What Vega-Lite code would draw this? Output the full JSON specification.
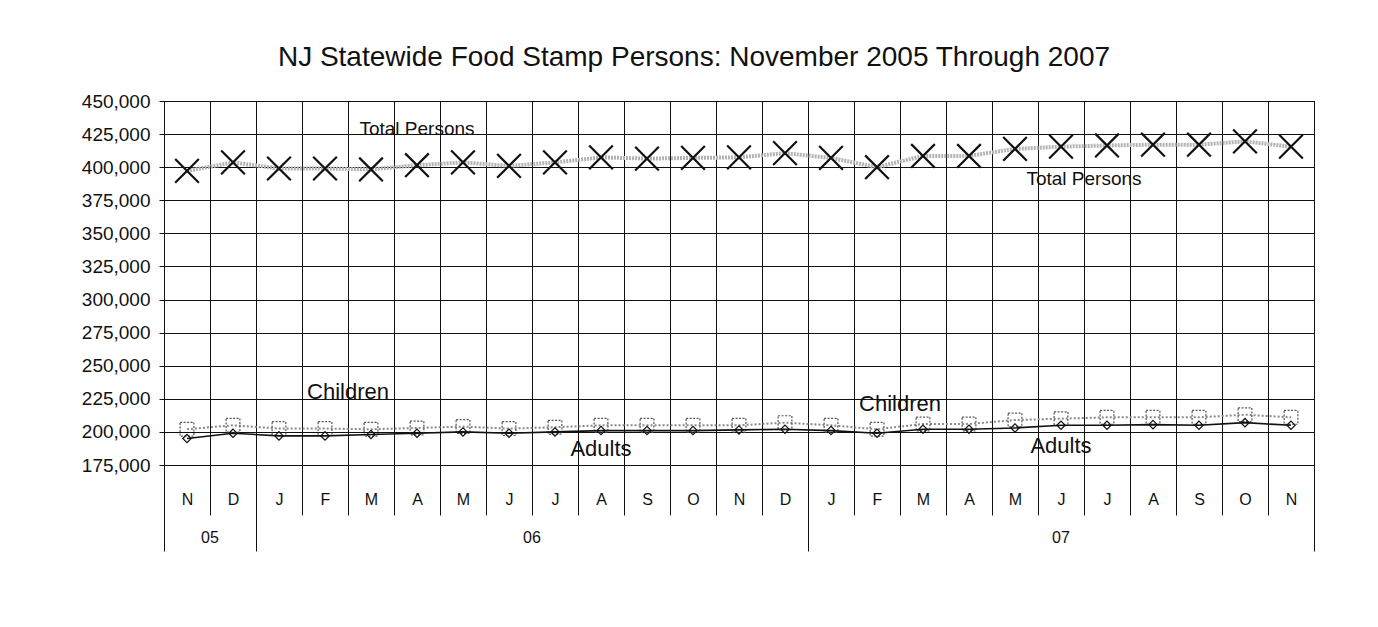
{
  "$schema": "https://vega.github.io/schema/vega-lite/v6.json",
  "width": 1150,
  "height": 364,
  "autosize": {"type": "none"},
  "padding": {"left": 164, "top": 101, "right": 64, "bottom": 162},
  "background": "white",
  "config": {
    "font": "Liberation Sans",
    "view": {"stroke": "#111", "strokeWidth": 1},
    "axisY": {
      "title": null,
      "grid": true,
      "gridColor": "#111",
      "gridOpacity": 1,
      "domainColor": "#111",
      "tickColor": "#111",
      "tickSize": 5,
      "labelPadding": 9,
      "labelFontSize": 19,
      "labelColor": "#111"
    }
  },
  "title": {
    "text": "NJ Statewide Food Stamp Persons: November 2005 Through 2007",
    "fontSize": 28,
    "fontWeight": "normal",
    "font": "Liberation Sans",
    "color": "#111",
    "anchor": "middle",
    "dx": -45,
    "offset": 20
  },
  "datasets": {
    "months": [
      {"key": "2005-11", "total": 397200, "children": 202000, "adults": 195000},
      {"key": "2005-12", "total": 403600, "children": 205000, "adults": 199000},
      {"key": "2006-01", "total": 399000, "children": 202500, "adults": 197000},
      {"key": "2006-02", "total": 399000, "children": 202500, "adults": 197000},
      {"key": "2006-03", "total": 398300, "children": 202000, "adults": 198000},
      {"key": "2006-04", "total": 401500, "children": 203000, "adults": 199000},
      {"key": "2006-05", "total": 403600, "children": 204000, "adults": 200000},
      {"key": "2006-06", "total": 401000, "children": 202500, "adults": 199000},
      {"key": "2006-07", "total": 403600, "children": 203500, "adults": 200000},
      {"key": "2006-08", "total": 407400, "children": 205000, "adults": 201000},
      {"key": "2006-09", "total": 406500, "children": 205000, "adults": 201000},
      {"key": "2006-10", "total": 407000, "children": 205000, "adults": 201000},
      {"key": "2006-11", "total": 407400, "children": 205000, "adults": 201500},
      {"key": "2006-12", "total": 410600, "children": 207000, "adults": 202000},
      {"key": "2007-01", "total": 407000, "children": 205000, "adults": 201000},
      {"key": "2007-02", "total": 400000, "children": 202000, "adults": 199000},
      {"key": "2007-03", "total": 408500, "children": 206000, "adults": 202000},
      {"key": "2007-04", "total": 408500, "children": 206000, "adults": 202000},
      {"key": "2007-05", "total": 413800, "children": 209000, "adults": 203000},
      {"key": "2007-06", "total": 415500, "children": 210000, "adults": 205000},
      {"key": "2007-07", "total": 416400, "children": 211000, "adults": 205000},
      {"key": "2007-08", "total": 417000, "children": 211000, "adults": 205500},
      {"key": "2007-09", "total": 417000, "children": 211000, "adults": 205000},
      {"key": "2007-10", "total": 419500, "children": 213000, "adults": 207000},
      {"key": "2007-11", "total": 415500, "children": 211000, "adults": 205000}
    ],
    "notesCenter": [
      {"key": "2006-04", "value": 428500, "label": "Total Persons"},
      {"key": "2006-08", "value": 187000, "label": "Adults"},
      {"key": "2007-06", "value": 189000, "label": "Adults"}
    ],
    "notesEdge": [
      {"key": "2007-06", "value": 391000, "label": "Total Persons"},
      {"key": "2006-02", "value": 230500, "label": "Children"},
      {"key": "2007-02", "value": 221000, "label": "Children"}
    ]
  },
  "resolve": {"axis": {"x": "independent"}},
  "layer": [
    {
      "data": {"name": "months"},
      "encoding": {
        "x": {
          "field": "key", "type": "ordinal",
          "scale": {"type": "band", "paddingInner": 0, "paddingOuter": 0},
          "axis": {
            "orient": "bottom",
            "title": null,
            "tickBand": "extent",
            "grid": true,
            "gridColor": "#111",
            "gridWidth": 1,
            "gridOpacity": 1,
            "domainColor": "#111",
            "tickColor": "#111",
            "tickSize": 50,
            "labelPadding": -24,
            "labelBaseline": "top",
            "labelFontSize": 16,
            "labelColor": "#111",
            "labelAngle": 0,
            "labelExpr": "['J','F','M','A','M','J','J','A','S','O','N','D'][toNumber(substring(datum.value,5,7))-1]"
          }
        },
        "y": {
          "field": "total", "type": "quantitative",
          "scale": {"domain": [175000, 450000], "nice": false, "zero": false},
          "axis": {"labelExpr": "format(datum.value, ',.0f')", "values": [175000, 200000, 225000, 250000, 275000, 300000, 325000, 350000, 375000, 400000, 425000, 450000]}
        }
      },
      "layer": [
        {"mark": {"type": "line", "color": "#b3b3b3", "strokeWidth": 4, "strokeDash": [2, 1]}},
        {"mark": {"type": "point", "shape": "M-1,-1L1,1M-1,1L1,-1", "filled": false, "stroke": "#111", "strokeWidth": 2.2, "size": 560, "opacity": 1}}
      ]
    },
    {
      "data": {"name": "months"},
      "encoding": {
        "x": {
          "field": "key", "type": "ordinal",
          "axis": {
            "orient": "bottom",
            "title": null,
            "values": ["2005-12", "2006-12", "2007-11"],
            "bandPosition": 1,
            "grid": false,
            "domain": false,
            "labels": false,
            "tickColor": "#111",
            "tickSize": 86
          }
        },
        "y": {"field": "children", "type": "quantitative", "axis": {"labelExpr": "format(datum.value, ',.0f')", "values": [175000, 200000, 225000, 250000, 275000, 300000, 325000, 350000, 375000, 400000, 425000, 450000]}}
      },
      "layer": [
        {"mark": {"type": "line", "color": "#8a8a8a", "strokeWidth": 2, "strokeDash": [2, 2]}},
        {"mark": {"type": "point", "shape": "square", "filled": false, "stroke": "#555", "strokeWidth": 1.2, "strokeDash": [2, 1.5], "size": 190, "opacity": 1}}
      ]
    },
    {
      "data": {"name": "months"},
      "encoding": {
        "x": {
          "field": "key", "type": "ordinal",
          "axis": {
            "orient": "bottom",
            "title": null,
            "values": ["2005-11", "2006-06", "2007-06"],
            "grid": false,
            "domain": false,
            "ticks": false,
            "tickSize": 0,
            "labelPadding": 72,
            "labelBaseline": "middle",
            "labelAngle": 0,
            "labelFontSize": 16,
            "labelColor": "#111",
            "labelOffset": {"condition": {"test": "datum.value === '2007-06'", "value": 0}, "value": 23},
            "labelExpr": "substring(datum.value,2,4)"
          }
        },
        "y": {"field": "adults", "type": "quantitative", "axis": {"labelExpr": "format(datum.value, ',.0f')", "values": [175000, 200000, 225000, 250000, 275000, 300000, 325000, 350000, 375000, 400000, 425000, 450000]}}
      },
      "layer": [
        {"mark": {"type": "line", "color": "#111", "strokeWidth": 1.6}},
        {"mark": {"type": "point", "shape": "diamond", "filled": false, "stroke": "#111", "strokeWidth": 1.2, "size": 70, "opacity": 1}}
      ]
    },
    {
      "data": {"name": "notesCenter"},
      "mark": {"type": "text", "align": "center", "baseline": "middle", "color": "#111"},
      "encoding": {
        "x": {
          "field": "key", "type": "ordinal",
          "axis": {
            "orient": "bottom",
            "title": null,
            "values": ["2005-11"],
            "bandPosition": 0,
            "grid": false,
            "domain": false,
            "labels": false,
            "tickColor": "#111",
            "tickSize": 86
          }
        },
        "y": {"field": "value", "type": "quantitative", "axis": {"labelExpr": "format(datum.value, ',.0f')", "values": [175000, 200000, 225000, 250000, 275000, 300000, 325000, 350000, 375000, 400000, 425000, 450000]}},
        "text": {"field": "label"},
        "size": {"condition": {"test": "datum.label === 'Total Persons'", "value": 19}, "value": 22}
      }
    },
    {
      "data": {"name": "notesEdge"},
      "mark": {"type": "text", "align": "center", "baseline": "middle", "color": "#111"},
      "encoding": {
        "x": {"field": "key", "type": "ordinal", "axis": null, "bandPosition": 1},
        "y": {"field": "value", "type": "quantitative", "axis": {"labelExpr": "format(datum.value, ',.0f')", "values": [175000, 200000, 225000, 250000, 275000, 300000, 325000, 350000, 375000, 400000, 425000, 450000]}},
        "text": {"field": "label"},
        "size": {"condition": {"test": "datum.label === 'Total Persons'", "value": 19}, "value": 22}
      }
    }
  ]
}
